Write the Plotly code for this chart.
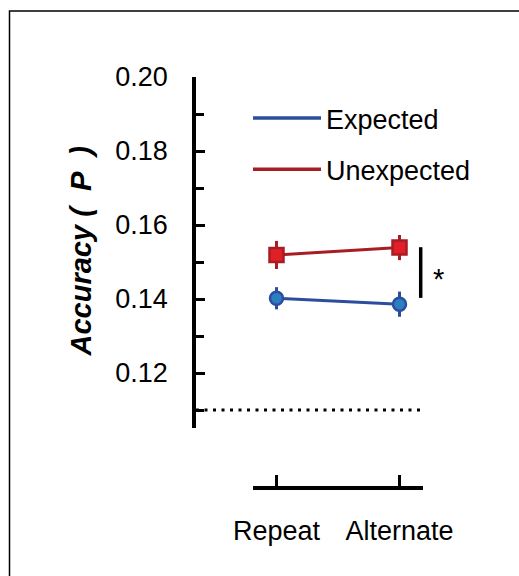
import plotly.graph_objects as go

# ---- data ----
conditions = ["Repeat", "Alternate"]
expected_mean = [0.1402, 0.1386]
expected_err = [0.0030, 0.0034]
unexpected_mean = [0.1519, 0.1539]
unexpected_err = [0.0038, 0.0034]
chance_level = 0.11
sig_span = [0.1403, 0.1540]
y_ticks = [0.12, 0.14, 0.16, 0.18, 0.20]

W, H = 519, 576
def px(x):
    return x / W
def py(y):
    return 1 - y / H

FONT = "Liberation Sans, Arial, Helvetica, sans-serif"
BLUE_LINE = "#2c4c9e"
BLUE_FILL = "#2b7fc0"
RED_LINE = "#a81d24"
RED_FILL = "#e01f26"

# pixel mapping for category axis: Repeat at 276.5, Alternate at 399.5
unit = 123.0
x0_px, x1_px = 276.5, 399.5
main_left, main_right = 196, 470
main_range = [-(x0_px - main_left) / unit, 1 + (main_right - x1_px) / unit]
ax2_left, ax2_right = 253, 423
ax2_range = [-(x0_px - ax2_left) / unit, 1 + (ax2_right - x1_px) / unit]

y_top_px, y_bot_px = 77, 428
y_scale = (373 - 77) / 0.08
y_range = [0.20 - (y_bot_px - y_top_px) / y_scale, 0.20]

fig = go.Figure()

fig.add_trace(go.Scatter(
    x=conditions, y=expected_mean, mode="lines+markers", showlegend=False,
    line=dict(color=BLUE_LINE, width=3),
    marker=dict(symbol="circle", size=13, color=BLUE_FILL, line=dict(color=BLUE_LINE, width=2.5)),
    error_y=dict(type="data", array=expected_err, color=BLUE_LINE, thickness=3, width=0),
    cliponaxis=False,
))
fig.add_trace(go.Scatter(
    x=conditions, y=unexpected_mean, mode="lines+markers", showlegend=False,
    line=dict(color=RED_LINE, width=3),
    marker=dict(symbol="square", size=14, color=RED_FILL, line=dict(color=RED_LINE, width=2.5)),
    error_y=dict(type="data", array=unexpected_err, color=RED_LINE, thickness=3, width=0),
    cliponaxis=False,
))
# legend entries
fig.add_trace(go.Scatter(x=[None], y=[None], mode="lines", name="Expected",
                         line=dict(color=BLUE_LINE, width=3.5), legendgroup="a"))
fig.add_trace(go.Scatter(x=[None], y=[None], mode="lines", name="Unexpected",
                         line=dict(color=RED_LINE, width=3.5), legendgroup="b"))

# invisible trace for the detached x axis subplot
fig.add_trace(go.Scatter(x=conditions, y=[0, 0], mode="markers", showlegend=False,
                         marker=dict(opacity=0), xaxis="x2", yaxis="y2", hoverinfo="skip"))

# chance line
fig.add_shape(type="line", xref="x domain", yref="y", x0=0, x1=(420 - main_left) / (main_right - main_left),
              y0=chance_level, y1=chance_level, line=dict(color="black", width=3, dash="3px,5.5px"))
# significance bar
sig_x = 1 + (420.7 - x1_px) / unit
fig.add_shape(type="line", xref="x", yref="y", x0=sig_x, x1=sig_x, y0=sig_span[0], y1=sig_span[1],
              line=dict(color="black", width=3.5))
fig.add_annotation(x=1 + (438.5 - x1_px) / unit, y=sum(sig_span) / 2, xref="x", yref="y",
                   xanchor="center", yanchor="middle", yshift=-6,
                   text="*", showarrow=False, font=dict(family=FONT, size=29, color="black"))

# frame
fig.add_shape(type="rect", xref="paper", yref="paper", x0=px(9.5), y0=-0.2, x1=1.2, y1=py(11),
              line=dict(color="black", width=1.5))

# y title
fig.add_annotation(x=px(80), y=py(251.5), xref="paper", yref="paper",
                   xanchor="center", yanchor="middle",
                   text="<b><i>Accuracy (\u00a0 P\u00a0 )</i></b>",
                   textangle=-90, showarrow=False, font=dict(family=FONT, size=29, color="black"))

fig.update_layout(
    width=W, height=H, margin=dict(l=0, r=0, t=0, b=0),
    paper_bgcolor="white", plot_bgcolor="rgba(0,0,0,0)",
    template="none",
    font=dict(family=FONT, size=27, color="black"),
    showlegend=True,
    legend=dict(x=px(248), y=py(94), xanchor="left", yanchor="top",
                font=dict(family=FONT, size=27, color="black"),
                itemwidth=68, tracegroupgap=13, traceorder="grouped",
                bgcolor="rgba(0,0,0,0)", borderwidth=0),
    xaxis=dict(domain=[px(main_left), px(main_right)], range=main_range, type="category",
               visible=False, showgrid=False, zeroline=False, anchor="y"),
    yaxis=dict(domain=[py(y_bot_px), py(y_top_px)], range=y_range, anchor="x",
               showline=True, linecolor="black", linewidth=3.5,
               ticks="inside", ticklen=9, tickwidth=3, tickcolor="black",
               tickvals=y_ticks, tickformat=".2f", ticklabelstandoff=19,
               minor=dict(dtick=0.01, tick0=0, ticks="inside", ticklen=8, tickwidth=3, tickcolor="black", showgrid=False),
               showgrid=False, zeroline=False,
               tickfont=dict(family=FONT, size=27, color="black")),
    xaxis2=dict(domain=[px(ax2_left), px(ax2_right)], range=ax2_range, type="category", anchor="y2",
                showline=True, linecolor="black", linewidth=3.5,
                ticks="inside", ticklen=11, tickwidth=3, tickcolor="black",
                tickvals=conditions, ticktext=conditions, ticklabelstandoff=18,
                showgrid=False, zeroline=False,
                tickfont=dict(family=FONT, size=27, color="black")),
    yaxis2=dict(domain=[py(486), py(470)], anchor="x2", visible=False, range=[0, 1],
                showgrid=False, zeroline=False),
)

fig.write_html("out.html")
